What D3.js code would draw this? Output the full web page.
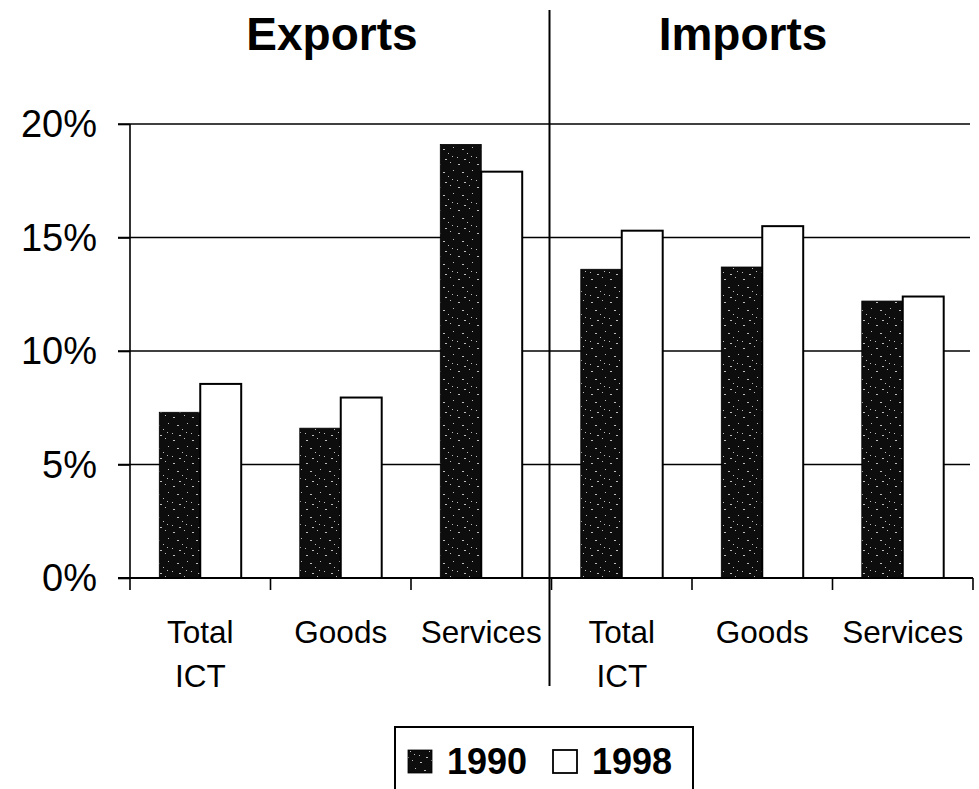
<!DOCTYPE html>
<html><head><meta charset="utf-8">
<script src="https://cdn.jsdelivr.net/npm/d3@7"></script>
<style>html,body{margin:0;padding:0;background:#fff;}svg{display:block;}</style>
</head><body>
<script>
const groups = ["Exports", "Imports"];
const categories = ["Total ICT", "Goods", "Services"];
const series = ["1990", "1998"];
const values1990 = [7.3, 6.6, 19.1, 13.6, 13.7, 12.2];
const values1998 = [8.55, 7.95, 17.9, 15.3, 15.5, 12.4];
const yTicks = [0, 5, 10, 15, 20];

const W = 979, H = 789;
const svg = d3.select("body").append("svg").attr("width", W).attr("height", H);

// speckle pattern for the dark series (deterministic positions)
const defs = svg.append("defs");
const pat = defs.append("pattern").attr("id", "speck").attr("patternUnits", "userSpaceOnUse")
  .attr("width", 19).attr("height", 23);
pat.append("rect").attr("width", 19).attr("height", 23).attr("fill", "#0d0d0d");
[[2,3],[13,1],[16,9],[6,11],[11,15],[1,19],[8,21],[15,18]].forEach(([px,py],i)=>{
  pat.append("rect").attr("x", px).attr("y", py).attr("width", i%3===0?2:1).attr("height", 1).attr("fill", "#bdbdbd");
});

const keys = [];
groups.forEach(g => categories.forEach(c => keys.push(g + "|" + c)));
const rows = keys.map((k, i) => ({ key: k, group: k.split("|")[0], cat: k.split("|")[1], v: [values1990[i], values1998[i]] }));

const x0 = d3.scaleBand().domain(keys).range([130, 973]).padding(0);
const bw = x0.bandwidth();
const x1 = d3.scaleBand().domain(series).range([bw * 0.2085, bw * 0.7915]).padding(0);
const y = d3.scaleLinear().domain([0, 20]).range([578, 124]);

const font = "'Liberation Sans', Arial, sans-serif";

// gridlines
svg.append("g").selectAll("line").data(yTicks.filter(t => t > 0)).join("line")
  .attr("x1", 118).attr("x2", 970).attr("y1", d => y(d)).attr("y2", d => y(d))
  .attr("stroke", "#000").attr("stroke-width", 1.6);

// bars
const gBars = svg.append("g");
rows.forEach(r => {
  series.forEach((s, j) => {
    const bx = x0(r.key) + x1(s);
    gBars.append("rect")
      .attr("x", bx).attr("y", y(r.v[j]))
      .attr("width", x1.bandwidth()).attr("height", y(0) - y(r.v[j]))
      .attr("fill", j === 0 ? "url(#speck)" : "#fff")
      .attr("stroke", "#000").attr("stroke-width", j === 0 ? 0.8 : 2);
  });
});

// y axis
const yAxis = d3.axisLeft(y).tickValues(yTicks).tickSize(12).tickFormat(d => d + "%");
const gy = svg.append("g").attr("transform", "translate(130,0)").call(yAxis);
gy.select(".domain").remove();
gy.selectAll(".tick line").attr("stroke", "#000").attr("stroke-width", 1.6);
gy.selectAll(".tick text").attr("font-family", font).attr("font-size", 38).attr("fill", "#000")
  .attr("x", -33).attr("dy", "0.34em");
svg.append("line").attr("x1", 130).attr("x2", 130).attr("y1", y(20)).attr("y2", 590)
  .attr("stroke", "#000").attr("stroke-width", 1.6);

// x axis baseline and boundary ticks
svg.append("line").attr("x1", 118).attr("x2", 973).attr("y1", y(0)).attr("y2", y(0))
  .attr("stroke", "#000").attr("stroke-width", 1.8);
const bounds = keys.slice(1).map(k => x0(k)).concat([x0(keys[keys.length - 1]) + bw]);
svg.append("g").selectAll("line").data(bounds).join("line")
  .attr("x1", d => d).attr("x2", d => d).attr("y1", y(0)).attr("y2", 590)
  .attr("stroke", "#000").attr("stroke-width", 1.6);

// category labels
const gl = svg.append("g").attr("font-family", font).attr("font-size", 31.5).attr("fill", "#000").attr("text-anchor", "middle");
rows.forEach(r => {
  const cx = x0(r.key) + bw / 2;
  const words = r.cat === "Total ICT" ? ["Total", "ICT"] : [r.cat];
  words.forEach((w, i) => {
    gl.append("text").attr("x", cx).attr("y", 643 + i * 44).text(w);
  });
});

// divider between groups
const divX = x0(groups[1] + "|" + categories[0]) - 2;
svg.append("line").attr("x1", divX).attr("x2", divX).attr("y1", 10).attr("y2", 686)
  .attr("stroke", "#000").attr("stroke-width", 2);

// group titles
const titleX = [332, 743];
groups.forEach((g, i) => {
  svg.append("text").attr("x", titleX[i]).attr("y", 50).attr("text-anchor", "middle")
    .attr("font-family", font).attr("font-weight", "bold").attr("font-size", 46).text(g);
});

// legend
const lg = svg.append("g");
lg.append("rect").attr("x", 395).attr("y", 727).attr("width", 298).attr("height", 80)
  .attr("fill", "#fff").attr("stroke", "#000").attr("stroke-width", 2);
const legX = [408, 553];
series.forEach((s, i) => {
  lg.append("rect").attr("x", legX[i]).attr("y", 750).attr("width", 24).attr("height", 23)
    .attr("fill", i === 0 ? "url(#speck)" : "#fff").attr("stroke", "#000").attr("stroke-width", i === 0 ? 0.8 : 1.8);
  lg.append("text").attr("x", legX[i] + 39).attr("y", 774)
    .attr("font-family", font).attr("font-weight", "bold").attr("font-size", 36).text(s);
});
</script>
</body></html>
